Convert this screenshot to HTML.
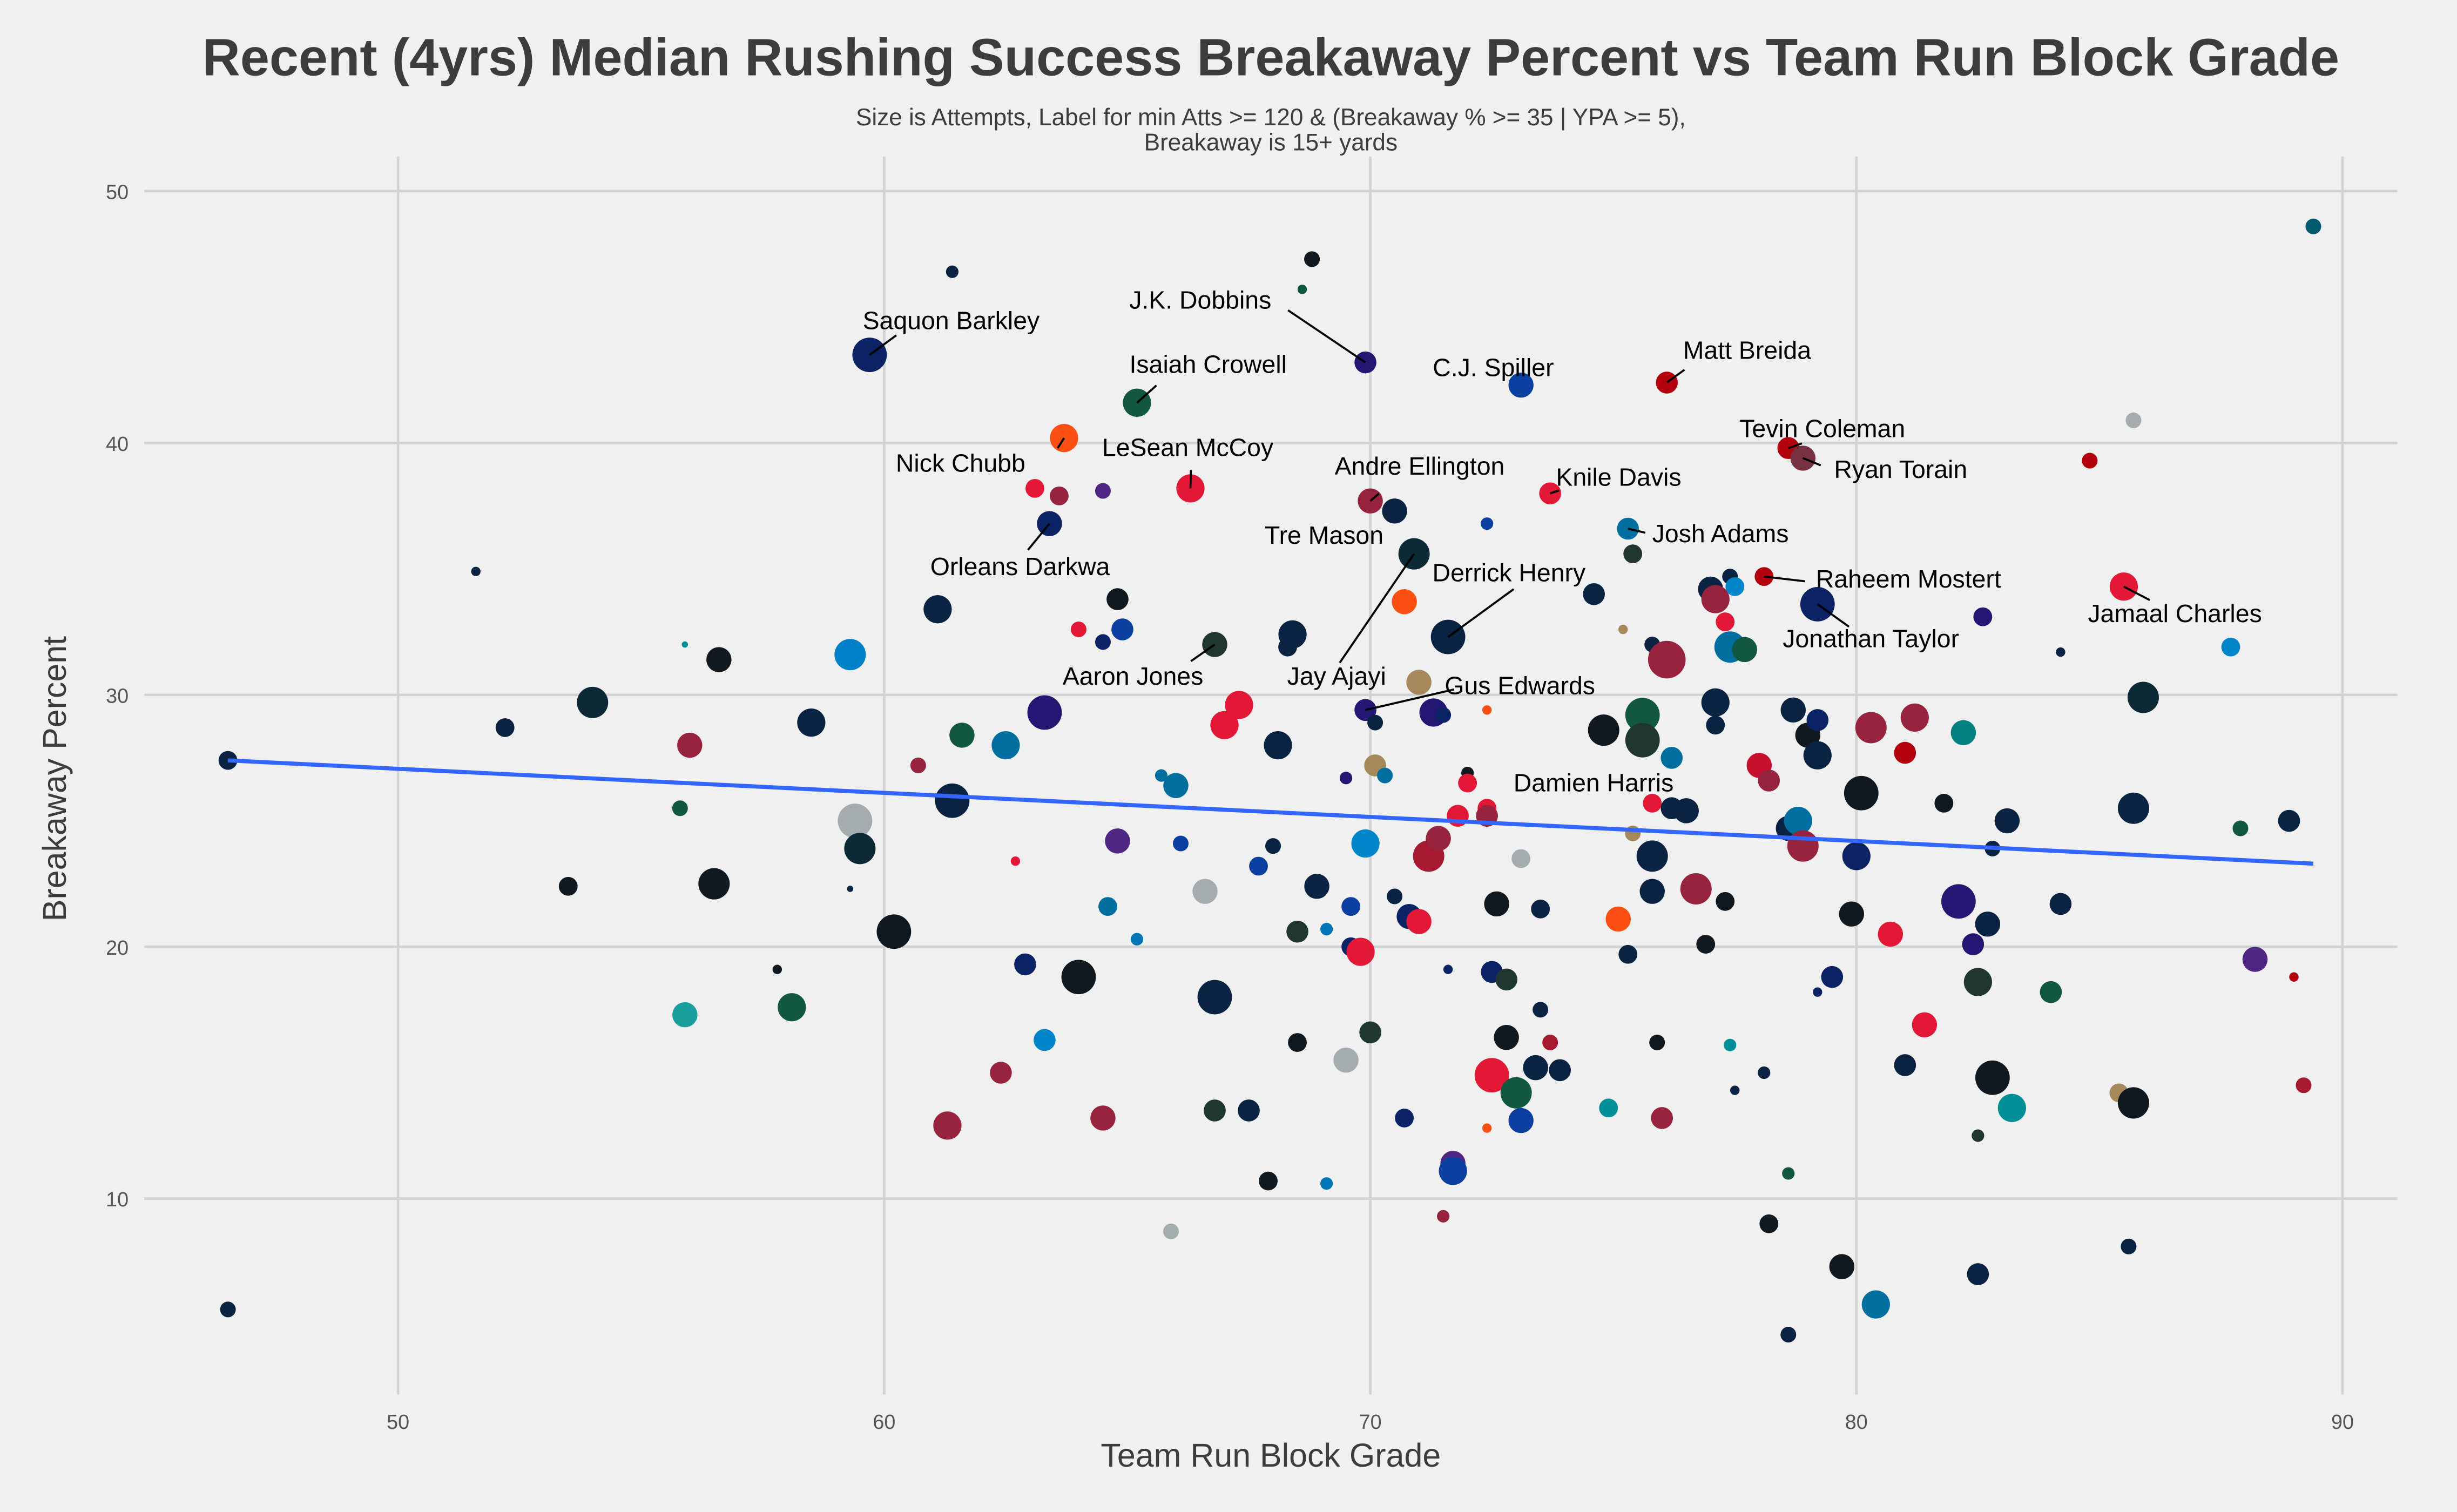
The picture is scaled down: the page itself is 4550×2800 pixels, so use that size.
<!DOCTYPE html>
<html><head><meta charset="utf-8">
<style>
html,body{margin:0;padding:0;background:#f0f0f0;}
svg{display:block;font-family:"Liberation Sans",sans-serif;}
</style></head>
<body>
<svg id="chart" width="4550" height="2800" viewBox="0 0 1568 965" xmlns="http://www.w3.org/2000/svg">
<rect x="0" y="0" width="1568" height="965" fill="#f0f0f0"/>
<g id="grid"></g>
<g id="ticks"></g>
<g id="points"></g>
<g id="trend"></g>
<g id="labels"></g>
<text x="811" y="48" text-anchor="middle" font-size="33.5" font-weight="bold" fill="#3c3c3c">Recent (4yrs) Median Rushing Success Breakaway Percent vs Team Run Block Grade</text>
<text x="811" y="80" text-anchor="middle" font-size="15.2" fill="#3c3c3c">Size is Attempts, Label for min Atts &gt;= 120 &amp; (Breakaway % &gt;= 35 | YPA &gt;= 5),</text>
<text x="811" y="96" text-anchor="middle" font-size="15.2" fill="#3c3c3c">Breakaway is 15+ yards</text>
<text x="811" y="936" text-anchor="middle" font-size="21" fill="#3c3c3c">Team Run Block Grade</text>
<text x="0" y="0" transform="translate(42,497) rotate(-90)" text-anchor="middle" font-size="21" fill="#3c3c3c">Breakaway Percent</text>
</svg>
<script>
const xTicks=[50,60,70,80,90];
const yTicks=[10,20,30,40,50];
const xs=[46.5,46.5,51.6,52.2,53.5,54.0,55.9,55.8,56.0,55.9,56.6,56.5,57.8,58.1,58.5,59.3,59.3,59.4,59.5,59.7,60.2,60.7,61.1,61.4,61.4,61.3,61.6,62.4,62.5,62.7,62.9,63.1,63.3,63.3,63.4,63.6,63.7,64.0,64.0,64.5,64.5,64.5,64.6,64.8,64.8,64.9,65.2,65.2,65.7,65.9,66.0,66.1,66.3,66.6,66.8,66.8,66.8,67.0,67.3,67.5,67.7,67.9,68.0,68.1,68.3,68.4,68.5,68.5,68.6,68.8,68.9,69.1,69.1,69.5,69.5,69.6,69.6,69.8,69.9,69.9,69.9,70.0,70.0,70.1,70.1,70.3,70.5,70.5,70.7,70.7,70.8,70.9,71.0,71.0,71.2,71.3,71.4,71.5,71.5,71.6,71.6,71.7,71.7,71.8,72.0,72.0,72.4,72.4,72.4,72.4,72.4,72.5,72.5,72.6,72.8,72.8,73.0,73.1,73.1,73.1,73.4,73.5,73.5,73.7,73.7,73.9,74.6,74.8,74.9,75.1,75.2,75.3,75.3,75.4,75.4,75.6,75.6,75.8,75.8,75.8,75.8,75.9,76.0,76.1,76.1,76.2,76.2,76.5,76.7,76.9,77.0,77.1,77.1,77.1,77.3,77.3,77.4,77.4,77.5,77.4,77.5,77.7,78.0,78.1,78.1,78.2,78.2,78.6,78.6,78.6,78.6,78.7,78.8,78.9,78.9,79.0,79.2,79.2,79.2,79.2,79.5,79.7,79.9,80.0,80.1,80.3,80.4,80.7,81.0,81.0,81.2,81.4,81.8,82.1,82.2,82.4,82.5,82.5,82.5,82.6,82.7,82.8,82.8,83.1,83.2,84.0,84.2,84.2,84.8,85.4,85.5,85.6,85.7,85.7,85.7,85.9,87.7,87.9,88.2,88.9,89.0,89.2,89.4];
const ys=[27.4,5.6,34.9,28.7,22.4,29.7,32.0,25.5,28.0,17.3,31.4,22.5,19.1,17.6,28.9,31.6,22.3,25.0,23.9,43.5,20.6,27.2,33.4,46.8,25.8,12.9,28.4,15.0,28.0,23.4,19.3,38.2,16.3,29.3,36.8,37.9,40.2,18.8,32.6,32.1,38.1,13.2,21.6,24.2,33.8,32.6,20.3,41.6,26.8,8.7,26.4,24.1,38.2,22.2,32.0,13.5,18.0,28.8,29.6,13.5,23.2,10.7,24.0,28.0,31.9,32.4,16.2,20.6,46.1,47.3,22.4,20.7,10.6,15.5,26.7,21.6,20.0,19.8,43.2,24.1,29.4,37.7,16.6,28.9,27.2,26.8,37.3,22.0,13.2,33.7,21.2,35.6,30.5,21.0,23.6,29.3,24.3,29.2,9.3,32.3,19.1,11.4,11.1,25.2,26.9,26.5,36.8,29.4,12.8,25.5,25.2,14.9,19.0,21.7,16.4,18.7,14.2,23.5,42.3,13.1,15.2,21.5,17.5,38.0,16.2,15.1,34.0,28.6,13.6,21.1,32.6,36.6,19.7,35.6,24.5,29.2,28.2,23.6,22.2,32.0,25.7,16.2,13.2,42.4,31.4,25.5,27.5,25.4,22.3,20.1,34.2,33.8,29.7,28.8,32.9,21.8,31.9,34.7,34.3,16.1,14.3,31.8,27.2,34.7,15.0,9.0,26.6,11.0,24.7,4.6,39.8,29.4,25.0,24.0,39.4,28.4,33.6,29.0,27.6,18.2,18.8,7.3,21.3,23.6,26.1,28.7,5.8,20.5,27.7,15.3,29.1,16.9,25.7,21.8,28.5,20.1,18.6,12.5,7.0,33.1,20.9,14.8,23.9,25.0,13.6,18.2,21.7,31.7,39.3,14.2,34.3,8.1,13.8,25.5,40.9,29.9,31.9,24.7,19.5,25.0,18.8,14.5,48.6];
const atts=[108,75,27,108,108,300,12,75,192,192,192,300,27,243,243,300,12,363,300,363,
363,75,243,48,363,243,192,147,243,27,147,108,147,363,192,108,243,363,75,75,
75,192,108,192,147,147,48,243,48,75,192,75,243,192,192,147,363,243,243,147,
108,108,75,243,108,243,108,147,27,75,192,48,48,192,48,108,108,243,147,243,
147,192,147,75,147,75,192,75,108,192,192,300,192,192,300,243,192,75,48,363,
27,192,243,147,48,108,48,27,27,108,147,363,147,192,192,147,300,108,192,192,
192,108,75,147,75,147,147,300,108,192,27,147,108,108,75,363,363,300,192,75,
108,75,147,147,432,147,147,192,300,108,192,243,243,108,108,108,300,75,108,48,
27,192,192,108,48,108,147,48,192,75,147,192,243,300,192,192,363,147,243,27,
147,192,192,243,363,300,243,192,147,147,243,192,108,363,192,147,243,48,147,108,
192,363,75,192,243,147,147,27,75,108,243,75,300,300,75,300,108,75,192,147,
27,75,75];
const colors=["#0a2342","#0a2342","#0a2342","#0a2342","#101820","#0b2a35","#008e97","#125740","#97233f","#1a9e9e","#101820","#101820","#101820","#125740","#0a2342","#0080c6","#0a2342","#a5acaf","#0b2a35","#0b2265","#101820","#97233f","#0a2342","#0a2342","#0a2342","#97233f","#125740","#97233f","#006fa0","#e31837","#0b2265","#e31837","#0085ca","#241773","#0b2265","#97233f","#fb4f14","#101820","#e31837","#0b2265","#4f2683","#97233f","#006fa0","#4f2683","#101820","#0b3fa0","#0076b6","#125740","#006fa0","#a5acaf","#006fa0","#0b3fa0","#e31837","#a5acaf","#203731","#203731","#0a2342","#e31837","#e31837","#0a2342","#0b3fa0","#101820","#0a2342","#0a2342","#0a2342","#0a2342","#101820","#203731","#125740","#101820","#0a2342","#0076b6","#0076b6","#a5acaf","#241773","#0b3fa0","#0b2265","#e31837","#241773","#0085ca","#241773","#97233f","#203731","#0a2342","#a5895b","#006fa0","#0a2342","#0a2342","#0b2265","#fb4f14","#0b2265","#0b2a35","#a5895b","#e31837","#a71930","#241773","#97233f","#0b2265","#97233f","#0a2342","#0b2265","#4f2683","#0b3fa0","#e31837","#101820","#e31837","#0b3fa0","#fb4f14","#fb4f14","#e31837","#97233f","#e31837","#0b2265","#101820","#101820","#203731","#125740","#a5acaf","#0b3fa0","#0b3fa0","#0a2342","#0a2342","#0a2342","#e31837","#a71930","#0a2342","#0a2342","#101820","#008e97","#fb4f14","#a5895b","#006fa0","#0a2342","#203731","#a5895b","#125740","#203731","#0a2342","#0a2342","#0a2342","#e31837","#101820","#97233f","#b3000d","#97233f","#0a2342","#006fa0","#0a2342","#97233f","#101820","#0a2342","#97233f","#0a2342","#0a2342","#e31837","#101820","#006fa0","#0a2342","#0085ca","#008e97","#0a2342","#125740","#c8102e","#b3000d","#0a2342","#101820","#97233f","#125740","#0a2342","#0a2342","#b3000d","#0a2342","#006fa0","#97233f","#773141","#101820","#0b2265","#0b2265","#0a2342","#0b2265","#0b2265","#101820","#101820","#0b2265","#101820","#97233f","#006fa0","#e31837","#b3000d","#0a2342","#97233f","#e31837","#101820","#241773","#008080","#241773","#203731","#203731","#0a2342","#241773","#0a2342","#101820","#0a2342","#0a2342","#008e97","#125740","#0a2342","#0a2342","#b3000d","#a5895b","#e31837","#0a2342","#101820","#0a2342","#a5acaf","#0b2a35","#0085ca","#125740","#4f2683","#0a2342","#b3000d","#a71930","#005a6e"];
const lblNames=["Saquon Barkley","J.K. Dobbins","Isaiah Crowell","C.J. Spiller","Matt Breida","Tevin Coleman","Ryan Torain","Nick Chubb","LeSean McCoy","Andre Ellington","Knile Davis","Josh Adams","Tre Mason","Orleans Darkwa","Derrick Henry","Raheem Mostert","Jamaal Charles","Jonathan Taylor","Aaron Jones","Jay Ajayi","Gus Edwards","Damien Harris"];
const lblPtX=[59.7,69.9,65.2,73.1,76.1,78.6,78.9,63.7,66.3,70.0,73.7,75.3,70.9,63.4,71.6,78.1,85.5,79.2,66.8,70.9,69.9,75.8];
const lblPtY=[43.5,43.2,41.6,42.3,42.4,39.8,39.4,40.2,38.2,37.7,38.0,36.6,35.6,36.8,32.3,34.7,34.3,33.6,32.0,35.6,29.4,25.7];
const trendX=[46.5,89.4];
const trendY=[27.4,23.3];
/* label layout (pixel positions, not data) */
const lblPos=[[607,210],[766,197],[771,238],[953,240],[1115,229],[1163,279],[1213,305],[613,301],[758,291],[906,303],[1033,310],[1098,346],[845,347],[651,367],[963,371],[1218,375],[1388,397],[1194,413],[723,437],[853,437],[970,443],[1017,505]];
const lblEnd=[[572,214],[822,198],[738,246],null,[1075,236],[1150,283],[1162,297],[675,286],[760,300],[880,315],[995,313],[1050,340],null,[656,351],[966,376],[1152,371],[1372,383],[1180,400],[760,422],[855,423],[928,440],null];

const NS="http://www.w3.org/2000/svg";
function sx(v){return 254+(v-50)*31.025;}
function sy(v){return 122+(50-v)*16.075;}
function mk(tag,attrs,parent){const e=document.createElementNS(NS,tag);for(const k in attrs)e.setAttribute(k,attrs[k]);parent.appendChild(e);return e;}
const grid=document.getElementById('grid'),ticks=document.getElementById('ticks');
xTicks.forEach(t=>{
  const l=mk('line',{x1:sx(t),x2:sx(t),y1:100,y2:890,stroke:'#d2d2d2','stroke-width':1.6},grid);
  
  
  const tx=mk('text',{x:sx(t),y:912,'text-anchor':'middle','font-size':13,fill:'#555'},ticks);
  tx.textContent=t;
  
  
});
yTicks.forEach(t=>{
  const l=mk('line',{x1:92,x2:1530,y1:sy(t),y2:sy(t),stroke:'#d2d2d2','stroke-width':1.6},grid);
  
  
  const tx=mk('text',{x:82,y:sy(t)+5,'text-anchor':'end','font-size':13,fill:'#555'},ticks);
  tx.textContent=t;
  
  
});
const pts=document.getElementById('points');
for(let i=0;i<xs.length;i++){
  const c=mk('circle',{cx:sx(xs[i]),cy:sy(ys[i]),r:Math.sqrt(atts[i]/3),fill:colors[i]},pts);
  
  
}
const tr=mk('line',{x1:sx(trendX[0]),y1:sy(trendY[0]),x2:sx(trendX[1]),y2:sy(trendY[1]),stroke:'#3366ff','stroke-width':2.6},document.getElementById('trend'));


const lg=document.getElementById('labels');
for(let i=0;i<lblNames.length;i++){
  if(lblEnd[i]){
    const ln=mk('line',{x1:sx(lblPtX[i]),y1:sy(lblPtY[i]),x2:lblEnd[i][0],y2:lblEnd[i][1],stroke:'#000','stroke-width':1.3},lg);
    
    
  }
  const t=mk('text',{x:lblPos[i][0],y:lblPos[i][1],'text-anchor':'middle','font-size':16,fill:'#000'},lg);
  t.textContent=lblNames[i];
  
  
}
</script>
</body></html>
